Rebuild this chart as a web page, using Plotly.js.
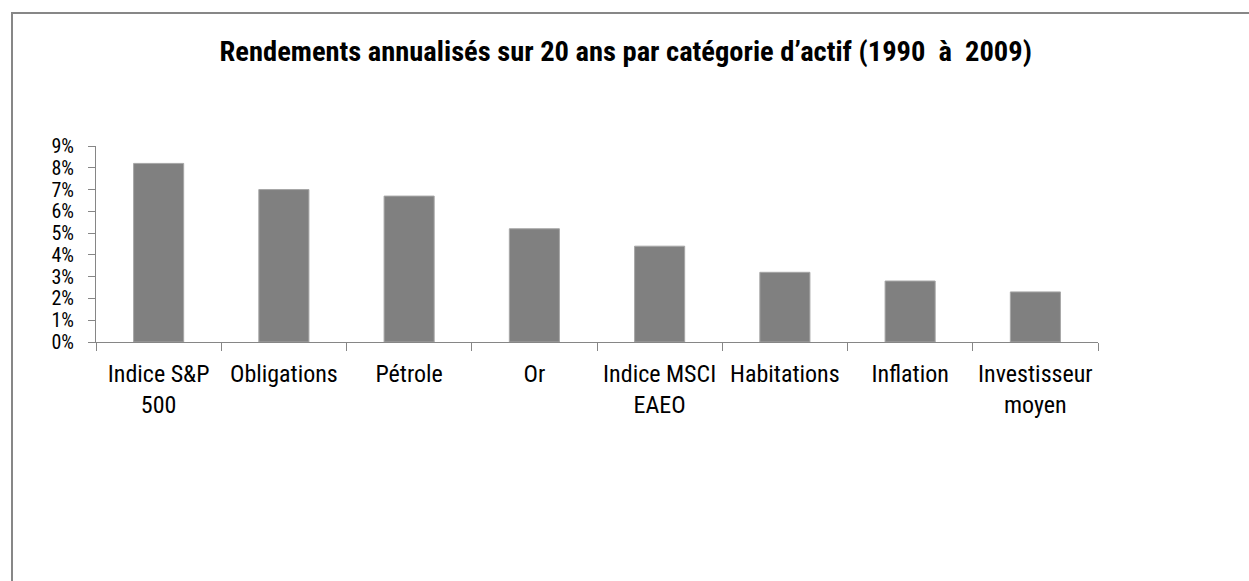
<!DOCTYPE html>
<html>
<head>
<meta charset="utf-8">
<script src="https://cdn.plot.ly/plotly-3.0.1.min.js"></script>
<style>
  html, body { margin: 0; padding: 0; background: #fff; overflow: hidden; }
  #wrap { position: relative; width: 1249px; height: 581px; overflow: hidden; }
  #chart { position: absolute; left: 0; top: 0; width: 1249px; height: 581px; }
  #frame { position: absolute; left: 11px; top: 12px; width: 1250px; height: 580px;
           border-left: 2px solid #878787; border-top: 2px solid #878787; pointer-events: none; }
</style>
</head>
<body>
<div id="wrap">
  <div id="chart"></div>
  <div id="frame"></div>
</div>
<script>
const categories = [
  "Indice S&P<br>500",
  "Obligations",
  "Pétrole",
  "Or",
  "Indice MSCI<br>EAEO",
  "Habitations",
  "Inflation",
  "Investisseur<br>moyen"
];
const returnsPct = [8.2, 7.0, 6.7, 5.2, 4.4, 3.2, 2.8, 2.3];
const titleText = "Rendements annualisés sur 20 ans par catégorie d’actif (1990\u00a0 à\u00a0 2009)";

const FONT = "'Liberation Sans Narrow', 'Arial Narrow', 'Roboto Condensed', 'Liberation Sans', Arial, sans-serif";

const trace = {
  type: "bar",
  x: categories,
  y: returnsPct,
  marker: { color: "#808080", line: { color: "#a6a6a6", width: 1 } },
  hoverinfo: "skip"
};

const layout = {
  width: 1249,
  height: 581,
  paper_bgcolor: "rgba(0,0,0,0)",
  plot_bgcolor: "rgba(0,0,0,0)",
  margin: { l: 96, r: 151, t: 146, b: 239, pad: 0 },
  bargap: 0.6,
  showlegend: false,
  font: { family: FONT, size: 24, color: "#000" },
  title: {
    text: "<b>" + titleText + "</b>",
    font: { family: FONT, size: 28.5, color: "#000" },
    x: 0.501, xref: "container", xanchor: "center",
    y: 1 - 51 / 581, yref: "container", yanchor: "middle"
  },
  xaxis: {
    type: "category",
    showline: true, linecolor: "#868686", linewidth: 1,
    ticks: "outside", tickson: "boundaries", ticklen: 8, tickcolor: "#868686", tickwidth: 1,
    showgrid: false, zeroline: false,
    tickfont: { family: FONT, size: 24, color: "#000" },
    ticklabelstandoff: 10,
    automargin: false
  },
  yaxis: {
    range: [0, 9], dtick: 1, tick0: 0, ticksuffix: "%",
    showline: true, linecolor: "#868686", linewidth: 1,
    ticks: "outside", ticklen: 7, tickcolor: "#868686", tickwidth: 1,
    showgrid: false, zeroline: false,
    tickfont: { family: FONT, size: 20, color: "#000" },
    ticklabelstandoff: 10,
    automargin: false
  }
};

Plotly.newPlot("chart", [trace], layout, { staticPlot: true, displayModeBar: false });
</script>
</body>
</html>
